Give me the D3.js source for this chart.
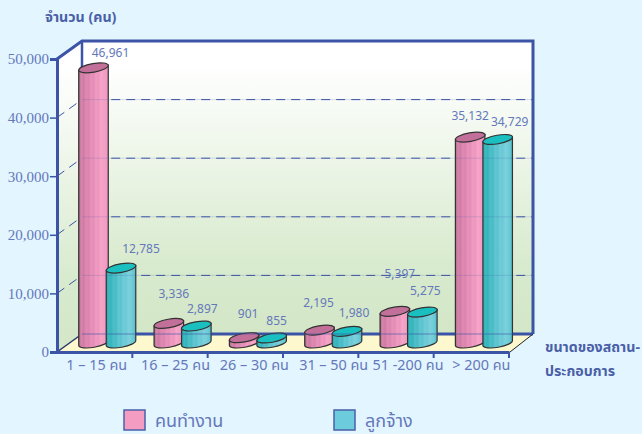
<!DOCTYPE html>
<html>
<head>
<meta charset="utf-8">
<script src="https://cdn.jsdelivr.net/npm/d3@7"></script>
<style>
html, body { margin: 0; padding: 0; background: #e3f5fe; }
svg { display: block; }
</style>
</head>
<body>
<svg id="chart" width="642" height="434"></svg>
<script>
const categories = ["1 – 15 คน", "16 – 25 คน", "26 – 30 คน", "31 – 50 คน", "51 -200 คน", "> 200 คน"];
const seriesNames = ["คนทำงาน", "ลูกจ้าง"];
const workers = [46961, 3336, 901, 2195, 5397, 35132];
const employees = [12785, 2897, 855, 1980, 5275, 34729];
const yTicks = [0, 10000, 20000, 30000, 40000, 50000];

// hand placed label nudges, the labels in the original are not centred on the bars
const nudgeX = [[17, 5, 4, -1, 5, 0], [20, 6, 5, 7, 3, 12]];
const nudgeY = [[-20, -34, -29, -32, -42, -26], [-24, -22, -22, -23, -26, -22]];
const tickLabelShift = [2, 5.5, 9, 13, 12, 10];

const svg = d3.select("#chart");
const blue = "#3c54a6";
const textBlue = "#6478bb";
const thai = "'Noto Sans Thai', 'Noto Sans', 'Liberation Sans', sans-serif";

const depthX = 25, depthY = -18;
const y = d3.scaleLinear().domain([0, 50000]).range([352, 59]);
const x = d3.scaleBand().domain(categories).range([57, 509]);
const inner = d3.scalePoint().domain(seriesNames).range([36.5, 64]);

const colors = [
	{ cap: "#c2709a", stops: ["#a86a85", "#d685ab", "#cf7ba5", "#e08ab3", "#db84ae", "#e892bb", "#e48db7", "#f09bc2", "#ec96be", "#f7a5c9", "#f49fc5", "#f39dc4", "#e68fb8"] },
	{ cap: "#1abfc0", stops: ["#2aa3aa", "#3dbac1", "#35b4bc", "#4fbfc8", "#48bbc5", "#62c6d1", "#5ac3ce", "#70ccd8", "#6ac9d5", "#7bd1dd", "#75ced9", "#68c8d5", "#4cbcc8"] }
];

const defs = svg.append("defs");
const wall = defs.append("linearGradient").attr("id", "wall").attr("x1", 0).attr("x2", 0).attr("y1", 0).attr("y2", 1);
wall.append("stop").attr("offset", "0.08").attr("stop-color", "#ffffff");
wall.append("stop").attr("offset", "0.75").attr("stop-color", "#d9ebcf");
wall.append("stop").attr("offset", "1").attr("stop-color", "#d3e6c6");
colors.forEach((c, i) => {
	const g = defs.append("linearGradient").attr("id", "cyl" + i);
	c.stops.forEach((s, j) => {
		g.append("stop").attr("offset", j / (c.stops.length - 1)).attr("stop-color", s);
	});
});

// walls and floor
const polygon = d3.line();
const left = x.range()[0], right = x.range()[1] + 1;
svg.append("path")
	.attr("d", polygon([[left, y(50000)], [left + depthX, y(50000) + depthY], [left + depthX, y(0) + depthY], [left, y(0)]]) + "Z")
	.attr("fill", "url(#wall)");
svg.append("rect")
	.attr("x", left + depthX).attr("y", y(50000) + depthY)
	.attr("width", right - left - 2).attr("height", y(0) - y(50000))
	.attr("fill", "url(#wall)");
svg.append("path")
	.attr("d", polygon([[left, y(0)], [left + depthX, y(0) + depthY], [right + depthX - 2, y(0) + depthY], [right, y(0)]]) + "Z")
	.attr("fill", "#fdf8cd");

// dashed grid
const grid = svg.append("g");
yTicks.slice(1, 5).forEach(t => {
	grid.append("path")
		.attr("d", polygon([[left, y(t)], [left + depthX, y(t) + depthY], [right + depthX - 2, y(t) + depthY]]))
		.attr("fill", "none").attr("stroke", blue).attr("stroke-width", 1).attr("stroke-dasharray", "9 6");
});

// frame
const frame = svg.append("g").attr("fill", "none").attr("stroke", blue);
frame.append("path").attr("stroke-width", 3)
	.attr("d", polygon([[left, y(50000)], [left + depthX, y(50000) + depthY], [right + depthX - 2, y(50000) + depthY], [right + depthX - 2, y(0) + depthY]]));
frame.append("line").attr("stroke-width", 2.5)
	.attr("x1", left + depthX).attr("x2", left + depthX).attr("y1", y(50000) + depthY).attr("y2", y(0) + depthY);
frame.append("line").attr("stroke-width", 3)
	.attr("x1", left + depthX).attr("x2", right + depthX - 2).attr("y1", y(0) + depthY).attr("y2", y(0) + depthY);
frame.append("line").attr("stroke-width", 1.5).attr("stroke", "#26366e")
	.attr("x1", left).attr("x2", left + depthX).attr("y1", y(0)).attr("y2", y(0) + depthY);
svg.append("line").attr("stroke-width", 1).attr("stroke", "#222")
	.attr("x1", right).attr("x2", right + depthX - 2).attr("y1", y(0)).attr("y2", y(0) + depthY);

// cylinders
const rx = 15, ry = 4.3, tilt = 10, lift = 9;
const dx = rx * Math.cos(tilt * Math.PI / 180), dy = rx * Math.sin(tilt * Math.PI / 180);
const seriesValues = [workers, employees];
const bars = svg.append("g");
seriesNames.forEach((name, s) => {
	categories.forEach((cat, i) => {
		const cx = x(cat) + inner(name);
		const base = y(0) - lift;
		const top = y(seriesValues[s][i]) - lift;
		const arc = `A${rx},${ry} ${-tilt} 0 0`;
		bars.append("path")
			.attr("d", `M${cx - dx},${top + dy} L${cx - dx},${base + dy} ${arc} ${cx + dx},${base - dy} L${cx + dx},${top - dy} Z`)
			.attr("fill", `url(#cyl${s})`)
			.attr("stroke", "#333").attr("stroke-width", 1.2);
		bars.append("ellipse")
			.attr("cx", 0).attr("cy", 0).attr("rx", rx).attr("ry", ry)
			.attr("transform", `translate(${cx},${top}) rotate(${-tilt})`)
			.attr("fill", colors[s].cap)
			.attr("stroke", "#333").attr("stroke-width", 1.2);
	});
});

// the back lines show faintly through the bars
yTicks.slice(0, 5).forEach(t => {
	svg.append("line")
		.attr("x1", left + depthX).attr("x2", right + depthX - 2)
		.attr("y1", y(t) + depthY).attr("y2", y(t) + depthY)
		.attr("stroke", blue).attr("stroke-opacity", t === 0 ? 0.3 : 0.18)
		.attr("stroke-width", t === 0 ? 2 : 1);
});

// value labels
seriesNames.forEach((name, s) => {
	svg.append("g").selectAll("text")
		.data(seriesValues[s])
		.enter()
		.append("text")
		.attr("x", (d, i) => x(categories[i]) + inner(name) + nudgeX[s][i])
		.attr("y", (d, i) => y(d) + nudgeY[s][i])
		.attr("text-anchor", "middle")
		.attr("font-family", "'Noto Sans', sans-serif")
		.attr("font-size", "12px")
		.attr("fill", textBlue)
		.text(d3.format(","));
});

// axes
const yAxis = svg.append("g")
	.attr("transform", `translate(${left}, 0)`)
	.call(d3.axisLeft(y).tickValues(yTicks).tickFormat(d3.format(",")).tickSize(7).tickPadding(1));
yAxis.selectAll("text")
	.attr("font-family", "'Liberation Serif', serif")
	.attr("font-size", "15px")
	.attr("fill", textBlue);
yAxis.selectAll("line").attr("stroke", blue).attr("stroke-width", 1.5);
yAxis.select(".domain").attr("stroke", blue).attr("stroke-width", 3);

const xAxis = svg.append("g")
	.attr("transform", `translate(0, ${y(0)})`)
	.call(d3.axisBottom(x).tickSize(0).tickPadding(8));
xAxis.selectAll("text")
	.attr("font-family", thai)
	.attr("font-size", "14.4px")
	.attr("fill", textBlue)
	.attr("dx", (d, i) => tickLabelShift[i]);
xAxis.select(".domain").attr("stroke", blue).attr("stroke-width", 3);
xAxis.selectAll(".edge")
	.data(categories)
	.enter()
	.append("line")
	.attr("class", "edge")
	.attr("x1", d => x(d) + x.bandwidth())
	.attr("x2", d => x(d) + x.bandwidth())
	.attr("y1", 0)
	.attr("y2", 6)
	.attr("stroke", blue)
	.attr("stroke-width", 2);

// titles
const title = (px, py, label) => svg.append("text")
	.attr("x", px).attr("y", py)
	.attr("font-family", thai)
	.attr("font-size", "14.2px")
	.attr("font-weight", "bold")
	.attr("fill", "#4a5fa8")
	.text(label);
title(45, 22, "จำนวน (คน)");
title(545, 352, "ขนาดของสถาน-");
title(545, 376, "ประกอบการ");

// legend
const legend = d3.scalePoint().domain(seriesNames).range([124, 334]);
seriesNames.forEach((name, s) => {
	svg.append("rect")
		.attr("x", legend(name)).attr("y", 410)
		.attr("width", 21).attr("height", 20)
		.attr("fill", s === 0 ? "#f59cc3" : "#6ccbdc")
		.attr("stroke", "#4a60a8").attr("stroke-width", 1.5);
	svg.append("text")
		.attr("x", legend(name) + 31).attr("y", 427)
		.attr("font-family", thai)
		.attr("font-size", "18px")
		.attr("fill", textBlue)
		.text(name);
});
</script>
</body>
</html>
